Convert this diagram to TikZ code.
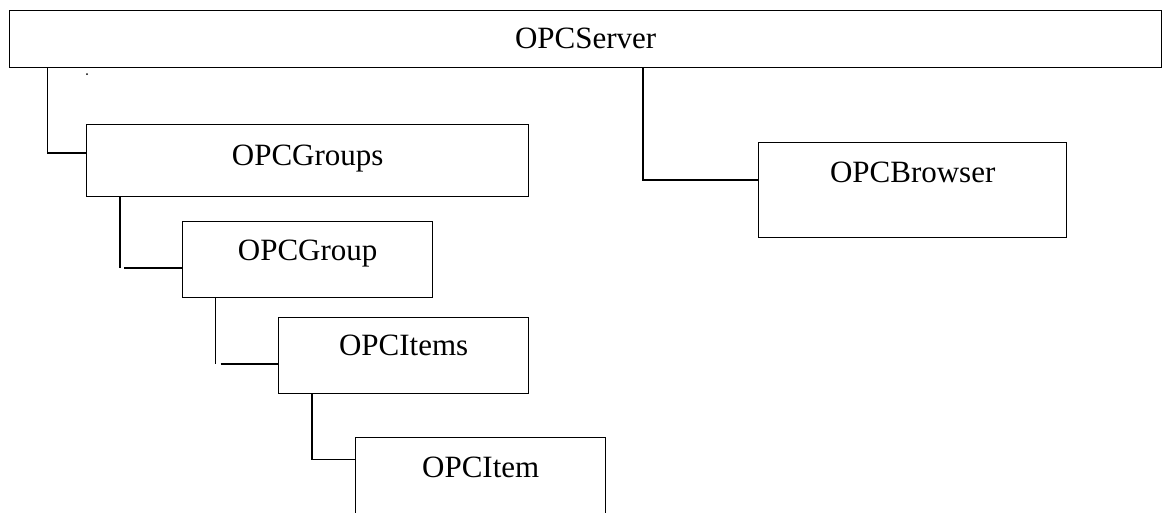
\documentclass[tikz,border=0pt]{standalone}
\usepackage{fontspec}
\setmainfont{Liberation Serif}
\usepackage{tikz}
\usetikzlibrary{positioning}

\tikzset{
  opcbox/.style={draw, line width=1.4pt, inner sep=0pt, anchor=north west,
    align=center, font=\fontsize{31}{31}\selectfont},
  boxdims/.style n args={3}{text width=#1, text height=#2, text depth=#3},
  link/.style={line width=1.4pt}
}

\begin{document}
\begin{tikzpicture}[x=1pt, y=-1pt]
\clip (0,0) rectangle (1167,512);

% boxes
\node[opcbox, boxdims={1152pt}{38pt}{19pt}] (server) at (9,10) {OPCServer};
\node[opcbox, boxdims={442pt}{41pt}{31pt}] (groups) at (86,124) {OPCGroups};
\node[opcbox, boxdims={308pt}{40pt}{55pt}] (browser) at (758,142) {OPCBrowser};
\node[opcbox, boxdims={250pt}{39pt}{37pt}] (group) at (182,221) {OPCGroup};
\node[opcbox, boxdims={250pt}{38pt}{38pt}] (items) at (278,317) {OPCItems};
\node[opcbox, boxdims={250pt}{40pt}{38pt}] (item) at (355,437) {OPCItem};

% server -> groups, server -> browser
\draw[link] ([xshift=38.7pt]server.south west) |- ([yshift=-29pt]groups.north west);
\draw[link] ([xshift=634pt]server.south west) |- ([yshift=-38pt]browser.north west);

% groups -> group (two pieces, not joined)
\coordinate (gA) at ([xshift=34pt]groups.south west);
\coordinate (gB) at ([yshift=-47pt]group.north west);
\draw[link] (gA) -- (gA |- gB);
\draw[link] ([xshift=-58pt]gB) -- (gB);

% group -> items (two pieces, not joined)
\coordinate (iA) at ([xshift=33.7pt]group.south west);
\coordinate (iB) at ([yshift=-47pt]items.north west);
\draw[link] (iA) -- (iA |- iB);
\draw[link] ([xshift=-57.3pt]iB) -- (iB);

% items -> item
\draw[link] ([xshift=34pt]items.south west) |- ([yshift=-22.3pt]item.north west);

% stray dot
\fill (87,74) circle (1pt);
\end{tikzpicture}
\end{document}
